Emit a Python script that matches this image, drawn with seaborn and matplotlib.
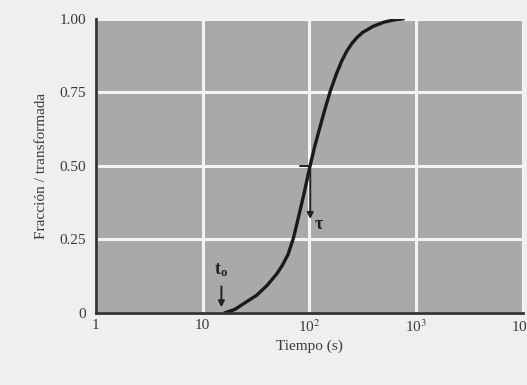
import numpy as np
import pandas as pd
import matplotlib
matplotlib.use("Agg")
import matplotlib.pyplot as plt
import seaborn as sns

# ---------------------------------------------------------------------------
# Data (transformation curve, log time axis)
# ---------------------------------------------------------------------------
tiempo = [16, 20, 25, 32, 40, 50, 56, 63, 71, 79, 89, 100, 112, 126,
          141, 158, 178, 200, 224, 251, 282, 316, 398, 501, 631, 760]
fraccion = [0.0, 0.012, 0.035, 0.06, 0.093, 0.135, 0.163, 0.198, 0.255,
            0.325, 0.405, 0.49, 0.565, 0.633, 0.697, 0.757, 0.81, 0.855,
            0.89, 0.917, 0.938, 0.954, 0.975, 0.989, 0.997, 1.0]

x_ticks = [1, 10, 100, 1000, 10000]
x_labels = ["1", "10", "10$^2$", "10$^3$", "10$^4$"]
y_ticks = [0, 0.25, 0.50, 0.75, 1.00]
y_labels = ["0", "0.25", "0.50", "0.75", "1.00"]

t0 = 15      # start of transformation
tau = 100    # time for half transformation

df = pd.DataFrame({"Tiempo": tiempo, "Fraccion": fraccion})

# ---------------------------------------------------------------------------
# Style
# ---------------------------------------------------------------------------
sns.set_style("whitegrid")
plt.rcParams["font.family"] = ["Liberation Serif", "DejaVu Serif"]
plt.rcParams["mathtext.fontset"] = "stix"

fig = plt.figure(figsize=(5.27, 3.85), dpi=100, facecolor="#efefef")
ax = fig.add_axes([0.182, 0.187, 0.81, 0.764])
ax.set_facecolor("#a9a9a9")

sns.lineplot(data=df, x="Tiempo", y="Fraccion", ax=ax,
             color="#1a1a1a", linewidth=2.4)

ax.set_xscale("log")
ax.set_xlim(1, 10000)
ax.set_ylim(0, 1.0)
ax.set_xticks(x_ticks)
ax.set_xticklabels(x_labels)
ax.set_yticks(y_ticks)
ax.set_yticklabels(y_labels)
ax.minorticks_off()

ax.grid(True, color="#f4f4f4", linewidth=2.2)
ax.set_axisbelow(True)

for side in ["top", "right"]:
    ax.spines[side].set_visible(False)
for side in ["left", "bottom"]:
    ax.spines[side].set_visible(True)
    ax.spines[side].set_color("#333333")
    ax.spines[side].set_linewidth(2)

ax.tick_params(axis="both", direction="in", length=7, width=2,
               color="#333333", labelsize=11, labelcolor="#3a3a3a")
ax.tick_params(axis="x", pad=4)
ax.tick_params(axis="y", pad=7)

ax.set_xlabel("Tiempo (s)", fontsize=11, color="#3a3a3a", labelpad=3)
ax.set_ylabel("Fracción / transformada", fontsize=11, color="#3a3a3a",
              labelpad=8)

# t0 marker
ax.annotate("", xy=(t0, 0.01), xytext=(t0, 0.1),
            arrowprops=dict(arrowstyle="-|>", color="#222222", lw=1.4,
                            mutation_scale=9))
ax.text(t0, 0.115, "t$_{\\mathregular{o}}$", fontsize=13, color="#222222",
        ha="center", va="bottom", fontweight="bold")

# tau marker
ax.plot([tau * 0.82, tau], [0.5, 0.5], color="#222222", lw=1.4)
ax.annotate("", xy=(tau * 1.02, 0.31), xytext=(tau * 1.02, 0.5),
            arrowprops=dict(arrowstyle="-|>", color="#222222", lw=1.4,
                            mutation_scale=9))
ax.text(tau * 1.12, 0.30, "τ", fontsize=13, color="#222222",
        ha="left", va="center", fontweight="bold")

plt.savefig("out.png", dpi=100, facecolor=fig.get_facecolor())
